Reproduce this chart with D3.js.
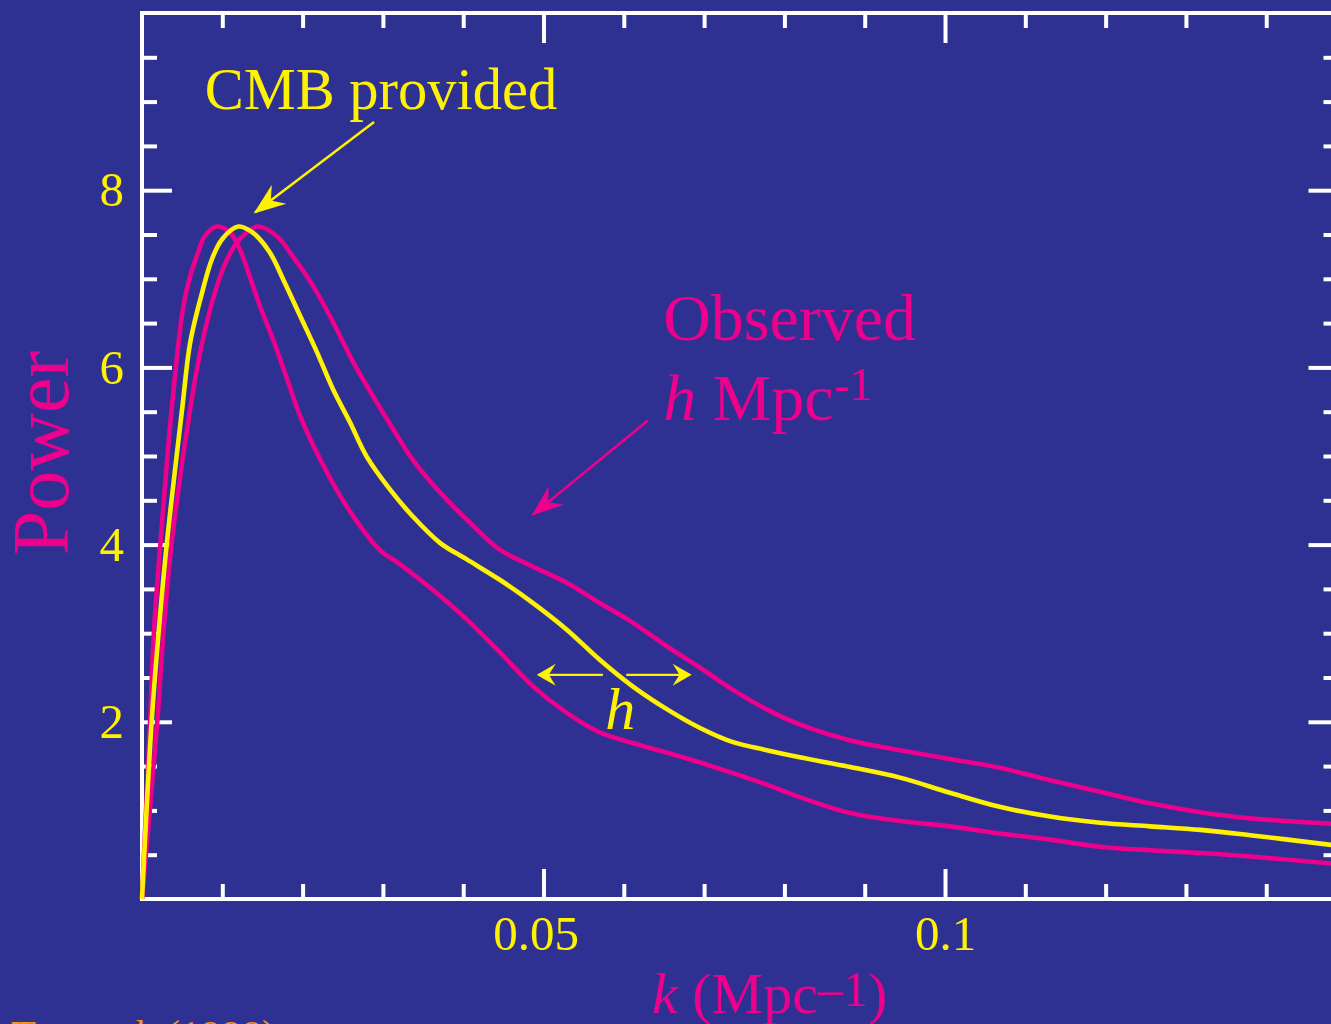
<!DOCTYPE html>
<html>
<head>
<meta charset="utf-8">
<script src="https://cdn.jsdelivr.net/npm/d3@7"></script>
<style>
html,body{margin:0;padding:0;background:#2E3192;overflow:hidden;}
svg{display:block;}
text{font-family:"Liberation Serif","Times New Roman",serif;}
</style>
</head>
<body>
<svg id="chart" width="1331" height="1024"></svg>
<script>
// ---- data (k in Mpc^-1, power in arbitrary units) ----
const kLeft = [0,0.0010,0.0015,0.0023,0.0037,0.0051,0.0060,0.0070,0.0078,0.0093,0.0110,0.0122,0.0134,0.0147,0.0163,0.0181,0.0197,0.0222,0.0255,0.0296,0.0321,0.0362,0.0405,0.0446,0.0487,0.0529,0.0570,0.0611,0.0654,0.0695,0.0736,0.0778,0.0819,0.0882,0.0944,0.1006,0.1068,0.1131,0.1193,0.1255,0.1318,0.1380,0.1481];
const powerLeft = [0,2.00,3.04,4.02,5.53,6.66,7.03,7.30,7.48,7.59,7.52,7.33,7.03,6.69,6.32,5.86,5.45,4.96,4.43,3.94,3.78,3.49,3.15,2.78,2.40,2.10,1.88,1.76,1.65,1.54,1.42,1.29,1.15,0.97,0.88,0.82,0.74,0.67,0.59,0.55,0.52,0.48,0.40];

const kCMB = [0,0.0012,0.0021,0.0031,0.0050,0.0060,0.0075,0.0087,0.0100,0.0120,0.0138,0.0159,0.0176,0.0197,0.0218,0.0238,0.0259,0.0280,0.0309,0.0337,0.0371,0.0405,0.0446,0.0487,0.0529,0.0570,0.0611,0.0654,0.0695,0.0736,0.0778,0.0819,0.0882,0.0944,0.1006,0.1068,0.1131,0.1193,0.1255,0.1318,0.1380,0.1481];
const powerCMB = [0,2.00,3.04,4.02,5.53,6.28,6.85,7.22,7.45,7.59,7.52,7.30,6.99,6.58,6.17,5.75,5.38,4.99,4.62,4.32,4.02,3.83,3.60,3.34,3.04,2.70,2.40,2.14,1.93,1.77,1.68,1.60,1.49,1.37,1.20,1.04,0.93,0.86,0.82,0.78,0.72,0.61];

const kRight = [0,0.0019,0.0027,0.0037,0.0060,0.0075,0.0091,0.0106,0.0122,0.0144,0.0168,0.0188,0.0213,0.0238,0.0263,0.0288,0.0313,0.0337,0.0371,0.0408,0.0446,0.0487,0.0529,0.0570,0.0611,0.0654,0.0695,0.0736,0.0778,0.0819,0.0882,0.0944,0.1006,0.1068,0.1131,0.1193,0.1255,0.1318,0.1380,0.1481];
const powerRight = [0,2.00,3.04,4.02,5.53,6.28,6.85,7.22,7.45,7.59,7.48,7.25,6.92,6.51,6.06,5.67,5.30,4.96,4.59,4.25,3.94,3.75,3.57,3.34,3.12,2.85,2.61,2.36,2.14,1.97,1.79,1.68,1.58,1.48,1.34,1.21,1.08,0.98,0.91,0.85];

const kMajorTicks = [0.05, 0.1];
const kTickLabels = ["0.05", "0.1"];
const kMinorTicks = [0.01,0.02,0.03,0.04,0.06,0.07,0.08,0.09,0.11,0.12,0.13,0.14];
const powerMajorTicks = [2, 4, 6, 8];
const powerTickLabels = ["2", "4", "6", "8"];
const powerMinorTicks = [0.5,1,1.5,2.5,3,3.5,4.5,5,5.5,6.5,7,7.5,8.5,9,9.5];

// ---- styling ----
const BG = "#2E3192", YEL = "#FFF200", MAG = "#EC008C", ORANGE = "#F7941D";

const svg = d3.select("#chart");
svg.append("rect").attr("width",1331).attr("height",1024).attr("fill",BG);

const x = d3.scaleLinear().domain([0, 0.149]).range([142, 1338.5]);
const y = d3.scaleLinear().domain([0, 10]).range([899, 13]);

// defs: arrow markers
const defs = svg.append("defs");
function marker(id, color, L, W, notch){
  defs.append("marker").attr("id",id)
    .attr("markerUnits","userSpaceOnUse")
    .attr("viewBox",`${-L-2} ${-W-2} ${L+4} ${2*W+4}`)
    .attr("markerWidth",L+4).attr("markerHeight",2*W+4)
    .attr("refX",0).attr("refY",0).attr("orient","auto")
    .append("path")
    .attr("d",`M2,0 L${-L},${-W} L${-L*notch},0 L${-L},${W} Z`)
    .attr("fill",color);
}
marker("arrY", YEL, 30, 12, 0.65);
marker("arrM", MAG, 30, 12, 0.65);
marker("arrYs", YEL, 17, 11, 0.6);

// ---- axes ----
function styleAxis(g){
  g.select(".domain").remove();
  g.selectAll(".tick line").attr("stroke","#fff").attr("stroke-width",4);
  g.selectAll(".tick text").attr("fill",YEL).attr("font-size",49)
    .attr("font-family",'"Liberation Serif","Times New Roman",serif');
}
// bottom
svg.append("g").attr("transform","translate(0,899)")
  .call(d3.axisBottom(x).tickValues(kMajorTicks).tickSizeInner(-30).tickSizeOuter(0)
        .tickPadding(16).tickFormat((d,i)=>kTickLabels[i]))
  .call(styleAxis)
  .call(g=>g.selectAll(".tick text").attr("dx",(d,i)=>i===0?-8:0));
svg.append("g").attr("transform","translate(0,899)")
  .call(d3.axisBottom(x).tickValues(kMinorTicks).tickSizeInner(-15).tickSizeOuter(0).tickFormat(""))
  .call(styleAxis);
// top
svg.append("g").attr("transform","translate(0,13)")
  .call(d3.axisTop(x).tickValues(kMajorTicks).tickSizeInner(-30).tickSizeOuter(0).tickFormat(""))
  .call(styleAxis);
svg.append("g").attr("transform","translate(0,13)")
  .call(d3.axisTop(x).tickValues(kMinorTicks).tickSizeInner(-15).tickSizeOuter(0).tickFormat(""))
  .call(styleAxis);
// left
svg.append("g").attr("transform","translate(142,0)")
  .call(d3.axisLeft(y).tickValues(powerMajorTicks).tickSizeInner(-30).tickSizeOuter(0)
        .tickPadding(18).tickFormat((d,i)=>powerTickLabels[i]))
  .call(styleAxis);
svg.append("g").attr("transform","translate(142,0)")
  .call(d3.axisLeft(y).tickValues(powerMinorTicks).tickSizeInner(-15).tickSizeOuter(0).tickFormat(""))
  .call(styleAxis);
// right
svg.append("g").attr("transform",`translate(${x(0.149)},0)`)
  .call(d3.axisRight(y).tickValues(powerMajorTicks).tickSizeInner(-30).tickSizeOuter(0).tickFormat(""))
  .call(styleAxis);
svg.append("g").attr("transform",`translate(${x(0.149)},0)`)
  .call(d3.axisRight(y).tickValues(powerMinorTicks).tickSizeInner(-15).tickSizeOuter(0).tickFormat(""))
  .call(styleAxis);

// frame
svg.append("rect")
  .attr("x",x(0)).attr("y",y(10))
  .attr("width",x(0.149)-x(0)).attr("height",y(0)-y(10))
  .attr("fill","none").attr("stroke","#fff").attr("stroke-width",4);

// ---- curves ----
const line = d3.line().x(d=>x(d[0])).y(d=>y(d[1])).curve(d3.curveCatmullRom.alpha(0.5));
const series = [
  {k:kLeft, p:powerLeft, c:MAG},
  {k:kRight, p:powerRight, c:MAG},
  {k:kCMB, p:powerCMB, c:YEL}
];
const plot = svg.append("g");
series.forEach(s=>{
  plot.append("path").datum(s.k.map((k,i)=>[k,s.p[i]]))
    .attr("d",line).attr("fill","none").attr("stroke",s.c)
    .attr("stroke-width",4.6).attr("stroke-linejoin","round");
});

// ---- annotations ----
const serif = '"Liberation Serif","Times New Roman",serif';
// CMB provided
svg.append("text").attr("x",x(0.0078)).attr("y",y(8.92))
  .attr("fill",YEL).attr("font-size",58.5).attr("font-family",serif).text("CMB provided");
svg.append("line").attr("x1",x(0.0289)).attr("y1",y(8.77)).attr("x2",x(0.0141)).attr("y2",y(7.75))
  .attr("stroke",YEL).attr("stroke-width",2.5).attr("marker-end","url(#arrY)");

// Observed h Mpc-1
svg.append("text").attr("x",x(0.0649)).attr("y",y(6.31))
  .attr("fill",MAG).attr("font-size",66).attr("font-family",serif).text("Observed");
const t2 = svg.append("text").attr("x",x(0.0649)).attr("y",y(5.41))
  .attr("fill",MAG).attr("font-size",66).attr("font-family",serif);
t2.append("tspan").attr("font-style","italic").text("h");
t2.append("tspan").text(" Mpc");
t2.append("tspan").attr("font-size",46).attr("dy",-20).text("-1");
svg.append("line").attr("x1",x(0.0630)).attr("y1",y(5.40)).attr("x2",x(0.0487)).attr("y2",y(4.34))
  .attr("stroke",MAG).attr("stroke-width",2.5).attr("marker-end","url(#arrM)");

// h arrows
svg.append("line").attr("x1",x(0.0574)).attr("y1",y(2.53)).attr("x2",x(0.0494)).attr("y2",y(2.53))
  .attr("stroke",YEL).attr("stroke-width",2.2).attr("marker-end","url(#arrYs)");
svg.append("line").attr("x1",x(0.0603)).attr("y1",y(2.53)).attr("x2",x(0.0682)).attr("y2",y(2.53))
  .attr("stroke",YEL).attr("stroke-width",2.2).attr("marker-end","url(#arrYs)");
svg.append("text").attr("x",x(0.0577)).attr("y",y(1.92))
  .attr("fill",YEL).attr("font-size",60).attr("font-style","italic").attr("font-family",serif).text("h");

// axis titles
svg.append("text").attr("transform","translate(68,453) rotate(-90)")
  .attr("text-anchor","middle").attr("fill",MAG).attr("font-size",80).attr("font-family",serif)
  .text("Power");
const xl = svg.append("text").attr("x",652).attr("y",1013)
  .attr("fill",MAG).attr("font-size",58).attr("font-family",serif);
xl.append("tspan").attr("font-style","italic").text("k");
xl.append("tspan").text(" (Mpc");
xl.append("tspan").attr("font-size",50).attr("dy",-7).text("–1");
xl.append("tspan").attr("dy",7).text(")");

// source credit
svg.append("text").attr("x",11).attr("y",1048)
  .attr("fill",ORANGE).attr("font-size",41).attr("font-family",serif).text("Tegmark (1998)");
</script>
</body>
</html>
